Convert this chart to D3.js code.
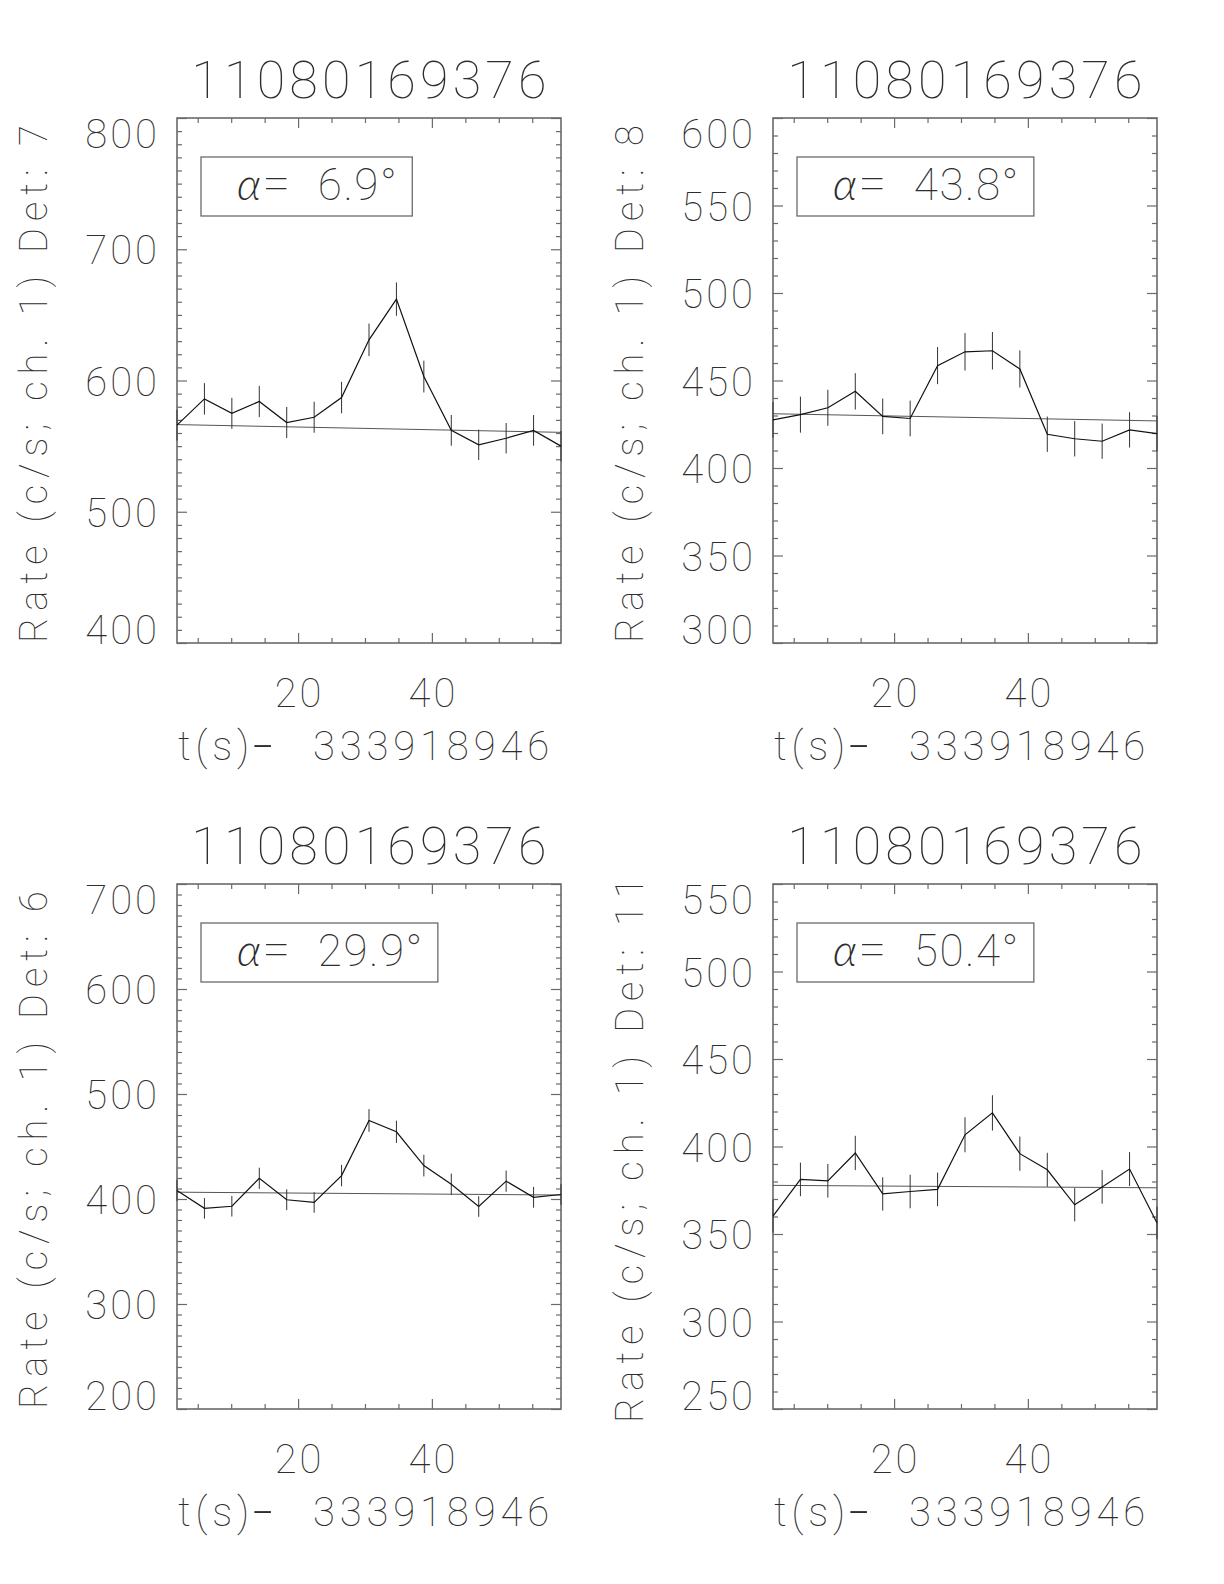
<!DOCTYPE html>
<html><head><meta charset="utf-8">
<script src="https://cdn.jsdelivr.net/npm/d3@7"></script>
<style>
body{margin:0;background:#fff;}
svg text{font-family:Roboto,"DejaVu Sans",sans-serif;font-weight:100;fill:#2e2e2e;}
.title{font-size:52px;letter-spacing:4.2px;}
.tick-lab{font-size:40px;letter-spacing:3px;}
.xtitle{font-size:40px;letter-spacing:4.9px;}
.ytitle{font-size:38px;letter-spacing:7px;}
.alpha{font-size:44px;letter-spacing:1.5px;}
.greek{font-family:Lato,"Noto Sans",sans-serif !important;font-weight:300 !important;font-style:italic;}
</style></head><body>
<svg id="c" width="1224" height="1584"></svg>
<script>
// ---- data ----
const titleText = "11080169376";
const xTitleA = "t(s)";
const xTitleDash = "-";
const xTitleB = "333918946";
const times = [1.9, 6.0, 10.1, 14.2, 18.3, 22.4, 26.5, 30.6, 34.7, 38.8, 42.9, 47.0, 51.1, 55.2, 59.3];
const xTickLabels = [20, 40];
const xMinorTicks = [5, 10, 15, 25, 30, 35, 45, 50, 55];

const detNames = ["7", "8", "6", "11"];
const alphaVals = ["6.9", "43.8", "29.9", "50.4"];

const rate7 = [566, 586, 575, 584, 568, 572, 587, 631, 662, 603, 562, 551, 556, 562, 550];
const err7  = [11.8, 12.0, 11.8, 11.9, 11.8, 11.8, 12.0, 12.4, 12.7, 12.1, 11.7, 11.6, 11.6, 11.7, 11.6];
const bg7   = [566.4, 560.5];
const yTicks7 = [400, 500, 600, 700, 800];

const rate8 = [427.5, 430.5, 434.4, 443.8, 429.5, 428.3, 458.5, 466.4, 467.0, 456.6, 419.3, 416.7, 415.3, 421.8, 419.6];
const err8  = [10.2, 10.3, 10.3, 10.4, 10.2, 10.2, 10.6, 10.7, 10.7, 10.6, 10.1, 10.1, 10.1, 10.1, 10.1];
const bg8   = [431.0, 426.9];
const yTicks8 = [300, 350, 400, 450, 500, 550, 600];

const rate6 = [408.2, 391.1, 393.1, 419.7, 399.3, 396.7, 422.3, 474.8, 464.0, 431.8, 414.1, 392.8, 417.0, 401.6, 404.3];
const err6  = [10.0, 9.8, 9.8, 10.1, 9.9, 9.8, 10.2, 10.8, 10.6, 10.3, 10.1, 9.8, 10.1, 9.9, 9.9];
const bg6   = [406.5, 403.8];
const yTicks6 = [200, 300, 400, 500, 600, 700];

const rate11 = [360.2, 381.2, 380.4, 396.3, 372.9, 374.3, 375.5, 406.7, 419.2, 395.9, 386.7, 366.7, 376.9, 387.1, 356.3];
const err11  = [9.4, 9.6, 9.6, 9.8, 9.5, 9.6, 9.6, 10.0, 10.1, 9.8, 9.7, 9.5, 9.6, 9.7, 9.3];
const bg11   = [377.8, 376.4];
const yTicks11 = [250, 300, 350, 400, 450, 500, 550];

const panels = [
  {det: detNames[0], alpha: alphaVals[0], rate: rate7,  err: err7,  bg: bg7,  ticks: yTicks7,  minor: 10},
  {det: detNames[1], alpha: alphaVals[1], rate: rate8,  err: err8,  bg: bg8,  ticks: yTicks8,  minor: 10},
  {det: detNames[2], alpha: alphaVals[2], rate: rate6,  err: err6,  bg: bg6,  ticks: yTicks6,  minor: 10},
  {det: detNames[3], alpha: alphaVals[3], rate: rate11, err: err11, bg: bg11, ticks: yTicks11, minor: 10}
];

// ---- drawing ----
const svg = d3.select("#c");
const W = 384, H = 525;
const cols = [177, 773], rows = [118, 884];
const frameCol = "#6a6a6a", lineCol = "#111";

panels.forEach((p, i) => {
  const x0 = cols[i % 2], y0 = rows[Math.floor(i / 2)];
  const yMin = d3.min(p.ticks), yMax = d3.max(p.ticks);
  const x = d3.scaleLinear().domain([times[0], times[times.length - 1]]).range([x0, x0 + W]);
  const y = d3.scaleLinear().domain([yMin, yMax]).range([y0 + H, y0]);
  const g = svg.append("g");

  // title
  g.append("text").attr("class", "title")
    .attr("x", x0 + W / 2 + 2).attr("y", y0 - 20).attr("text-anchor", "middle")
    .text(titleText);

  // ticks (inward, on all four sides)
  const yMinor = d3.range(yMin, yMax + 0.001, p.minor).filter(v => !p.ticks.includes(v));
  const axes = [
    [d3.axisBottom(x).tickValues(xMinorTicks).tickSize(-5), `translate(0,${y0 + H})`],
    [d3.axisBottom(x).tickValues(xTickLabels).tickSize(-10), `translate(0,${y0 + H})`],
    [d3.axisTop(x).tickValues(xMinorTicks).tickSize(-5), `translate(0,${y0})`],
    [d3.axisTop(x).tickValues(xTickLabels).tickSize(-10), `translate(0,${y0})`],
    [d3.axisLeft(y).tickValues(yMinor).tickSize(-5), `translate(${x0},0)`],
    [d3.axisLeft(y).tickValues(p.ticks).tickSize(-10), `translate(${x0},0)`],
    [d3.axisRight(y).tickValues(yMinor).tickSize(-5), `translate(${x0 + W},0)`],
    [d3.axisRight(y).tickValues(p.ticks).tickSize(-10), `translate(${x0 + W},0)`]
  ];
  axes.forEach(([ax, tr]) => {
    const a = g.append("g").attr("transform", tr).call(ax.tickFormat(""));
    a.select(".domain").remove();
    a.selectAll("line").attr("stroke", frameCol).attr("stroke-width", 1.2);
  });

  // frame
  g.append("rect").attr("x", x0).attr("y", y0).attr("width", W).attr("height", H)
    .attr("fill", "none").attr("stroke", frameCol).attr("stroke-width", 1.6);

  // y tick labels
  p.ticks.forEach(v => {
    let shift = 1;
    if (v === yMax) shift = 16;
    if (v === yMin) shift = -13;
    g.append("text").attr("class", "tick-lab")
      .attr("x", x0 - 17).attr("y", y(v) + shift + 14)
      .attr("text-anchor", "end").text(v);
  });

  // x tick labels
  xTickLabels.forEach(v => {
    g.append("text").attr("class", "tick-lab")
      .attr("x", x(v) + 1.5).attr("y", y0 + H + 64)
      .attr("text-anchor", "middle").text(v);
  });

  // x title
  const xt = g.append("text").attr("class", "xtitle")
    .attr("x", x0 + W / 2 - 3).attr("y", y0 + H + 117)
    .attr("text-anchor", "middle");
  xt.append("tspan").text(xTitleA);
  xt.append("tspan").attr("font-size", 72).attr("dy", 10).attr("dx", -2).text(xTitleDash);
  xt.append("tspan").attr("dy", -10).attr("dx", 20).text(" " + xTitleB);

  // y title
  g.append("text").attr("class", "ytitle")
    .attr("transform", `translate(${x0 - 130},${y0 + H / 2}) rotate(-90)`)
    .attr("text-anchor", "middle").text(`Rate (c/s; ch. 1) Det: ${p.det}`);

  // background fit line
  g.append("line")
    .attr("x1", x(times[0])).attr("x2", x(times[times.length - 1]))
    .attr("y1", y(p.bg[0])).attr("y2", y(p.bg[1]))
    .attr("stroke", "#555").attr("stroke-width", 1);

  // error bars
  g.selectAll(".eb").data(p.rate).enter().append("line")
    .attr("x1", (d, k) => x(times[k])).attr("x2", (d, k) => x(times[k]))
    .attr("y1", (d, k) => y(d - p.err[k])).attr("y2", (d, k) => y(d + p.err[k]))
    .attr("stroke", "#333").attr("stroke-width", 1);

  // light curve
  g.append("path").datum(p.rate)
    .attr("d", d3.line().x((d, k) => x(times[k])).y(d => y(d)))
    .attr("fill", "none").attr("stroke", lineCol).attr("stroke-width", 1.2);

  // alpha legend box
  const txt = g.append("text").attr("class", "alpha")
    .attr("x", x0 + 60).attr("y", y0 + 82);
  txt.append("tspan").attr("class", "greek").text("α");
  txt.append("tspan").attr("dx", 0).attr("font-size", 50).text("=");
  txt.append("tspan").attr("dx", 14).text(" " + p.alpha + "°");
  const bb = txt.node().getBBox();
  g.insert("rect", "text.alpha")
    .attr("x", x0 + 24).attr("y", y0 + 39)
    .attr("width", (bb.x + bb.width + 14) - (x0 + 24)).attr("height", 59)
    .attr("fill", "none").attr("stroke", frameCol).attr("stroke-width", 1.3);
});
</script>
</body></html>
